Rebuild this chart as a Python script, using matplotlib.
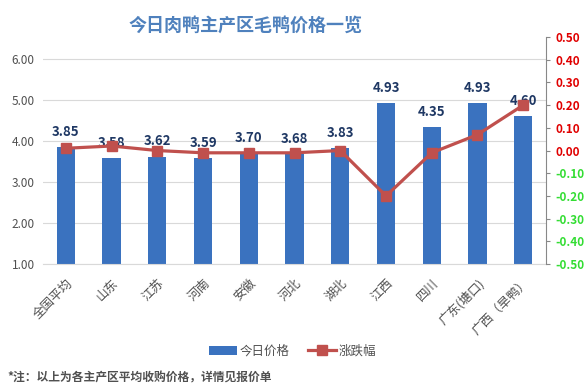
import matplotlib.pyplot as plt
import numpy as np

plt.rcParams['font.family'] = ['Noto Sans CJK SC', 'DejaVu Sans']

regions = ['全国平均', '山东', '江苏', '河南', '安徽', '河北', '湖北', '江西', '四川', '广东(塘口)', '广西（旱鸭）']
prices = [3.85, 3.58, 3.62, 3.59, 3.70, 3.68, 3.83, 4.93, 4.35, 4.93, 4.60]
changes = [0.01, 0.02, 0.00, -0.01, -0.01, -0.01, 0.00, -0.20, -0.01, 0.07, 0.20]
left_ticks = [1, 2, 3, 4, 5, 6]
right_ticks = [0.5, 0.4, 0.3, 0.2, 0.1, 0.0, -0.1, -0.2, -0.3, -0.4, -0.5]

gray = '#505050'
fig = plt.figure(figsize=(5.85, 3.9), dpi=100)
ax = fig.add_axes([0.0735, 0.323, 0.86, 0.582])
x = np.arange(len(regions))

ax.bar(x, np.array(prices) - 1, bottom=1, width=0.4, color='#3a72bf', zorder=2,
       label='今日价格')
for xi, p in zip(x, prices):
    ax.text(xi, p + 0.2, f'{p:.2f}', ha='center', va='bottom', fontsize=9.5,
            fontweight='bold', color='#1f3864', zorder=5)

ax.set_xlim(-0.5, len(regions) - 0.5)
ax.set_ylim(1, 6.537)
ax.set_yticks(left_ticks)
ax.set_yticklabels([f'{v:.2f}' for v in left_ticks], fontsize=8.5, color=gray)
ax.yaxis.grid(True, color='#d9d9d9', linewidth=0.8, zorder=0)
ax.set_axisbelow(True)
ax.tick_params(axis='y', length=0, pad=6)
ax.tick_params(axis='x', length=0, pad=9)
ax.set_xticks(x)
ax.set_xticklabels(regions, rotation=45, ha='right', rotation_mode='anchor',
                   fontsize=9, color=gray)
for s in ['left', 'top', 'right']:
    ax.spines[s].set_visible(False)
ax.spines['bottom'].set_color('#d9d9d9')

ax2 = ax.twinx()
ax2.plot(x, changes, color='#c0504d', linewidth=2.3, marker='s', markersize=7,
         zorder=4, label='涨跌幅')
ax2.set_ylim(-0.5, 0.5)
ax2.set_yticks(right_ticks)
ax2.set_yticklabels([f'{v:.2f}' for v in right_ticks], fontsize=8.5, fontweight='bold')
for lab, v in zip(ax2.get_yticklabels(), right_ticks):
    lab.set_color('#e00000' if v >= 0 else '#33dd33')
ax2.tick_params(axis='y', length=3, color='#888888', pad=4)
for s in ['left', 'top', 'bottom']:
    ax2.spines[s].set_visible(False)
ax2.spines['right'].set_color('#888888')

fig.text(0.42, 0.935, '今日肉鸭主产区毛鸭价格一览', ha='center', va='center',
         fontsize=13, fontweight='bold', color='#4f81bd')

h1, l1 = ax.get_legend_handles_labels()
h2, l2 = ax2.get_legend_handles_labels()
fig.legend(h1 + h2, l1 + l2, loc='center', bbox_to_anchor=(0.5, 0.1), ncol=2,
           frameon=False, fontsize=9, handlelength=2.2, columnspacing=1.5,
           labelcolor=gray, handletextpad=0.2)

fig.text(0.012, 0.03, '*注：以上为各主产区平均收购价格，详情见报价单', ha='left',
         va='center', fontsize=8.5, fontweight='bold', color=gray)

fig.savefig('out.png', dpi=100)
